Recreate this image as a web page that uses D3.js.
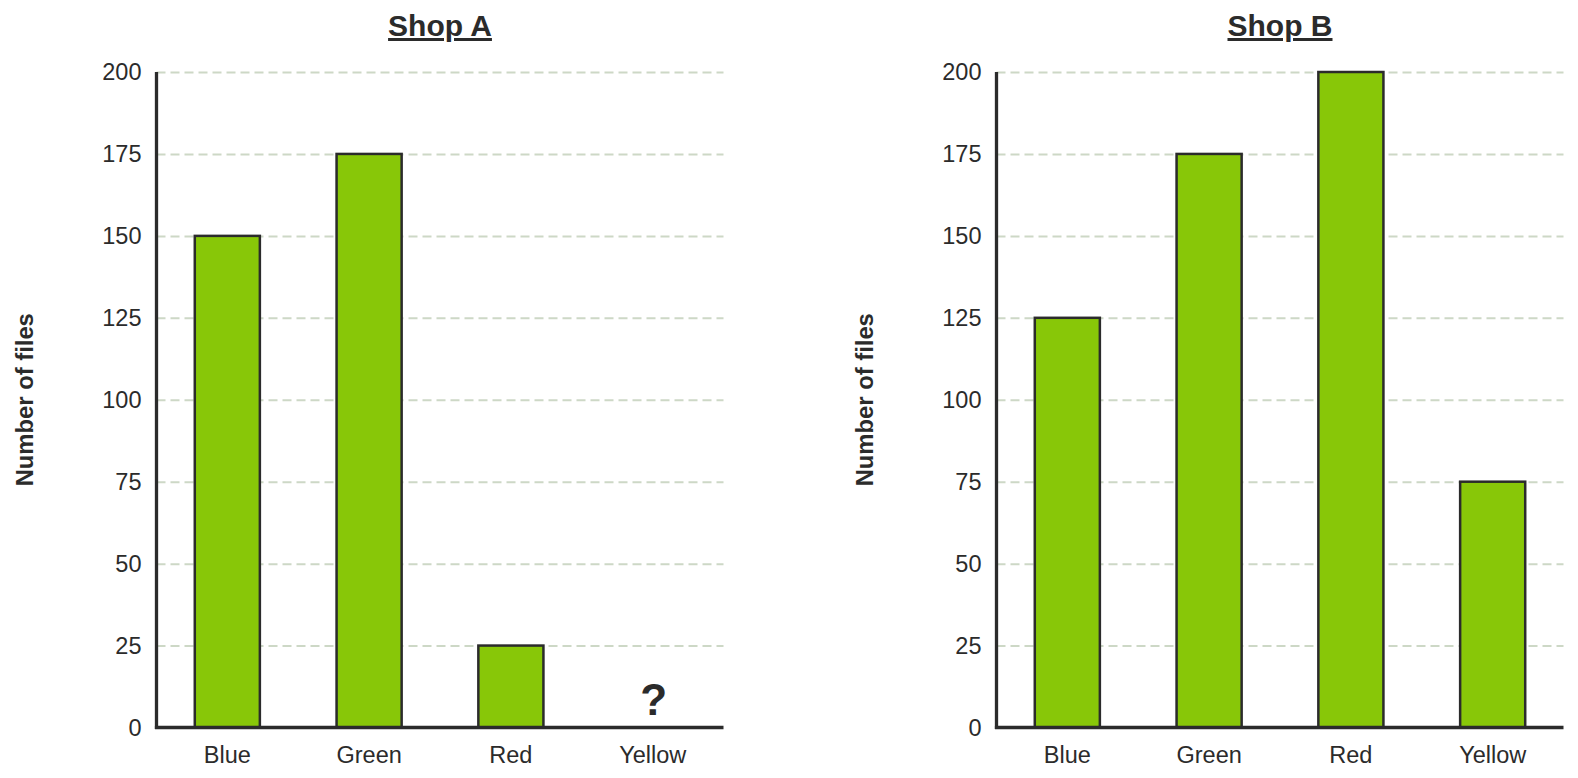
<!DOCTYPE html>
<html>
<head>
<meta charset="utf-8">
<script src="https://cdnjs.cloudflare.com/ajax/libs/d3/7.8.5/d3.min.js"></script>
<style>
  html, body { margin: 0; padding: 0; background: #fff; }
  svg { display: block; font-family: "Liberation Sans", Arial, sans-serif; }
  .tick text { fill: #2b2b2b; }
</style>
</head>
<body>
<svg id="chart"></svg>
<script>
// dados
const colours = ['Blue', 'Green', 'Red', 'Yellow'];
const shopA = [150, 175, 25, null];   // Yellow desconhecido -> "?"
const shopB = [125, 175, 200, 75];
const yTicks = [0, 25, 50, 75, 100, 125, 150, 175, 200];
const shops = ['Shop A', 'Shop B'];
const yLabel = 'Number of files';

const W = 1578, H = 778;
const ink = '#2b2b2b';
const svg = d3.select('#chart').attr('width', W).attr('height', H);

const plotTop = 72, plotBottom = 727.5, plotW = 567;
const y = d3.scaleLinear().domain([0, 200]).range([plotBottom, plotTop]);

function painel(left, titulo, valores) {
  const g = svg.append('g');
  const x = d3.scaleBand().domain(colours)
    .range([left, left + plotW]).paddingInner(0.541).paddingOuter(0.27);

  // grade tracejada
  g.append('g')
    .attr('transform', `translate(${left},0)`)
    .call(d3.axisLeft(y).tickValues(yTicks.filter(t => t > 0)).tickSize(-plotW).tickFormat(''))
    .call(s => s.select('.domain').remove())
    .call(s => s.selectAll('line')
      .attr('stroke', '#cdd8c6').attr('stroke-width', 2).attr('stroke-dasharray', '9,5'));

  // barras
  g.selectAll('rect.bar')
    .data(colours.map((c, i) => ({ c, v: valores[i] })).filter(d => d.v != null))
    .enter().append('rect')
    .attr('class', 'bar')
    .attr('x', d => x(d.c))
    .attr('y', d => y(d.v))
    .attr('width', x.bandwidth())
    .attr('height', d => y(0) - y(d.v))
    .attr('fill', '#88c708')
    .attr('stroke', ink)
    .attr('stroke-width', 2.5);

  // valor desconhecido
  colours.forEach((c, i) => {
    if (valores[i] == null) {
      g.append('text')
        .attr('x', x(c) + x.bandwidth() / 2 + 1)
        .attr('y', 715)
        .attr('text-anchor', 'middle')
        .attr('font-size', 44).attr('font-weight', 'bold')
        .attr('fill', ink)
        .text('?');
    }
  });

  // eixo y (rótulos)
  g.append('g')
    .attr('transform', `translate(${left},0)`)
    .call(d3.axisLeft(y).tickValues(yTicks).tickSize(0).tickPadding(15))
    .call(s => s.select('.domain').remove())
    .call(s => s.selectAll('text').attr('font-size', 23.5).attr('font-family', '"Liberation Sans", Arial, sans-serif'));

  // eixo x (rótulos)
  g.append('g')
    .attr('transform', `translate(0,${plotBottom})`)
    .call(d3.axisBottom(x).tickSize(0).tickPadding(19))
    .call(s => s.select('.domain').remove())
    .call(s => s.selectAll('text').attr('font-size', 23.5).attr('font-family', '"Liberation Sans", Arial, sans-serif'));

  // linhas dos eixos
  g.append('line')
    .attr('x1', left).attr('x2', left).attr('y1', plotTop).attr('y2', plotBottom + 1.6)
    .attr('stroke', ink).attr('stroke-width', 3.3);
  g.append('line')
    .attr('x1', left - 1.6).attr('x2', left + plotW).attr('y1', plotBottom).attr('y2', plotBottom)
    .attr('stroke', ink).attr('stroke-width', 3.3);

  // título
  g.append('text')
    .attr('x', left + plotW / 2).attr('y', 36)
    .attr('text-anchor', 'middle')
    .attr('font-size', 30).attr('font-weight', 'bold')
    .attr('text-decoration', 'underline')
    .attr('fill', ink)
    .text(titulo);

  // rótulo do eixo y
  g.append('text')
    .attr('transform', `translate(${left - 124},${(plotTop + plotBottom) / 2}) rotate(-90)`)
    .attr('text-anchor', 'middle')
    .attr('font-size', 23.8).attr('font-weight', 'bold')
    .attr('fill', ink)
    .text(yLabel);
}

painel(156.5, shops[0], shopA);
painel(996.5, shops[1], shopB);
</script>
</body>
</html>
